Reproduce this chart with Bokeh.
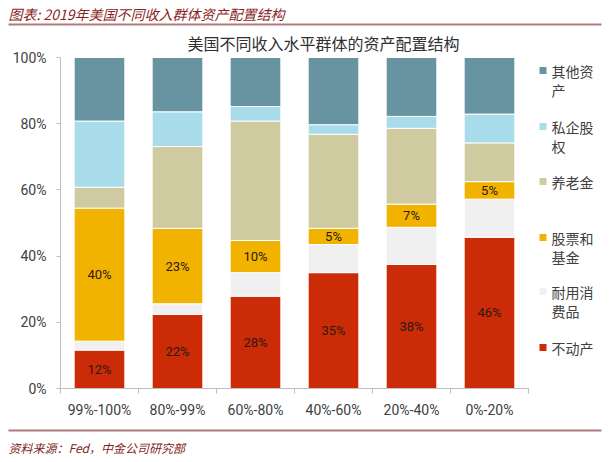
from bokeh.plotting import figure
from bokeh.models import (ColumnDataSource, Range1d, FixedTicker, NumeralTickFormatter, Label)
from bokeh.layouts import column
from bokeh.core.properties import value
from bokeh.embed import file_html
from bokeh.resources import INLINE

# ---- data (percent of total assets) ----
categories = ["99%-100%", "80%-99%", "60%-80%", "40%-60%", "20%-40%", "0%-20%"]
real_estate = [11.6, 22.4, 27.9, 35.0, 37.5, 45.7]      # 不动产
durables = [2.7, 3.2, 7.1, 8.5, 11.2, 11.5]             # 耐用消费品
stocks_funds = [40.2, 22.8, 9.7, 4.9, 7.0, 5.3]         # 股票和基金
pension = [6.3, 24.7, 36.1, 28.4, 22.9, 11.7]           # 养老金
private_equity = [20.0, 10.5, 4.4, 2.9, 3.6, 8.7]       # 私企股权
other_assets = [19.2, 16.4, 14.8, 20.3, 17.8, 17.1]     # 其他资产

series_names = ["不动产", "耐用消费品", "股票和基金", "养老金", "私企股权", "其他资产"]
series_values = [real_estate, durables, stocks_funds, pension, private_equity, other_assets]
series_colors = ["#CC2B08", "#F0F0F0", "#F2B300", "#CFCA9F", "#A9DCEA", "#6794A0"]

header_text = "图表: 2019年美国不同收入群体资产配置结构"
chart_title = "美国不同收入水平群体的资产配置结构"
footer_text = "资料来源：Fed，中金公司研究部"
legend_order = ["其他资产", "私企股权", "养老金", "股票和基金", "耐用消费品", "不动产"]
legend_lines = {
    "其他资产": ["其他资", "产"],
    "私企股权": ["私企股", "权"],
    "养老金": ["养老金"],
    "股票和基金": ["股票和", "基金"],
    "耐用消费品": ["耐用消", "费品"],
    "不动产": ["不动产"],
}

# ---- layout constants (pixels) ----
W = 611
HEAD_H, MAIN_H, FOOT_H = 28, 400, 34
MAIN_TOP_ABS = HEAD_H
FOOT_TOP_ABS = HEAD_H + MAIN_H
FRAME_L, FRAME_BOT_ABS = 60, 388
CAT_PX = 78.0
Y_PX = FRAME_BOT_ABS - 57.0          # pixels for 0..100%
LINE_COLOR = "#B07A7C"
CJK = "Noto Sans CJK SC"


def bare(fig):
    fig.outline_line_color = None
    fig.background_fill_color = "white"
    fig.border_fill_color = "white"
    fig.frame_align = False
    for g in fig.grid:
        g.visible = False
    return fig


def strip(h):
    """A plain band figure (header / footer): hidden axes, canvas-sized frame."""
    f = figure(width=W, height=h, output_backend="svg", toolbar_location=None,
               x_range=Range1d(0, W), y_range=Range1d(h, 0),
               min_border=0, min_border_left=0, min_border_right=0,
               min_border_top=0, min_border_bottom=0)
    for a in f.axis:
        a.visible = False
    return bare(f)


# ---- header ----
head = strip(HEAD_H)
head.add_layout(Label(x=8, y=13, text=header_text, text_font=CJK, text_font_size="14px",
                      text_font_style="italic", text_color="#8A1F1F",
                      text_align="left", text_baseline="middle"))
head.segment(x0=[8], y0=[24], x1=[601], y1=[24], line_width=2.2, line_color=LINE_COLOR)

# ---- main chart ----
frame_w = W - FRAME_L
frame_h = FRAME_BOT_ABS - MAIN_TOP_ABS
p = bare(figure(width=W, height=MAIN_H, output_backend="svg", toolbar_location=None,
                x_range=Range1d(0, frame_w / CAT_PX), y_range=Range1d(0, frame_h / Y_PX),
                min_border_left=FRAME_L, min_border_right=0, min_border_top=0,
                min_border_bottom=MAIN_H - frame_h))

xs = [i + 0.5 for i in range(len(categories))]
data = {"x": xs}
keys = []
for k, vals in enumerate(series_values):
    key = f"s{k}"
    keys.append(key)
    data[key] = [v / 100.0 for v in vals]
src = ColumnDataSource(data)
p.vbar_stack(keys, x="x", width=0.65, color=series_colors, line_color="white",
             line_width=1, source=src)

# value labels for 不动产 and 股票和基金
lab_x, lab_y, lab_t = [], [], []
for i in range(len(categories)):
    re_, du, st = real_estate[i], durables[i], stocks_funds[i]
    lab_x += [xs[i], xs[i]]
    lab_y += [re_ / 200.0, (re_ + du + st / 2.0) / 100.0]
    lab_t += [f"{round(re_):.0f}%", f"{round(st):.0f}%"]
p.text(x=lab_x, y=lab_y, text=lab_t, text_align="center", text_baseline="middle",
       text_font=value("Roboto"), text_font_size="13px", text_color="#2a1a12")

# axes
ax = p.xaxis[0]
ax.bounds = (0, len(categories))
ax.ticker = FixedTicker(ticks=xs, minor_ticks=list(range(len(categories) + 1)))
ax.major_label_overrides = {x: c for x, c in zip(xs, categories)}
ax.major_tick_line_color = None
ax.major_tick_in = 0
ax.major_tick_out = 0
ax.minor_tick_in = 0
ax.minor_tick_out = 5
ax.minor_tick_line_color = "#BFBFBF"
ax.axis_line_color = "#BFBFBF"
ax.major_label_text_font = "Roboto"
ax.major_label_text_font_size = "14px"
ax.major_label_text_color = "#404040"
ax.major_label_standoff = 8

ay = p.yaxis[0]
ay.bounds = (0, 1)
ay.ticker = FixedTicker(ticks=[0, 0.2, 0.4, 0.6, 0.8, 1.0])
ay.formatter = NumeralTickFormatter(format="0%")
ay.major_tick_in = 0
ay.major_tick_out = 4
ay.minor_tick_line_color = None
ay.major_tick_line_color = "#BFBFBF"
ay.axis_line_color = "#BFBFBF"
ay.major_label_text_font = "Roboto"
ay.major_label_text_font_size = "14px"
ay.major_label_text_color = "#404040"
ay.major_label_standoff = 10

# chart title (inside the frame's top band)
p.add_layout(Label(x=323, y=42 - MAIN_TOP_ABS, x_units="canvas", y_units="canvas",
                   text=chart_title, text_font=CJK, text_font_size="16px",
                   text_color="#303030", text_align="center", text_baseline="middle"))

# legend
legend_y_abs = [70, 126, 181, 237, 291, 347]
color_of = dict(zip(series_names, series_colors))
sq_x = [(542.5 - FRAME_L) / CAT_PX] * len(legend_order)
sq_y = [(FRAME_BOT_ABS - y) / Y_PX for y in legend_y_abs]
p.scatter(x=sq_x, y=sq_y, marker="square", size=7,
          fill_color=[color_of[n] for n in legend_order], line_color=None)
for name, y0 in zip(legend_order, legend_y_abs):
    for j, line in enumerate(legend_lines[name]):
        p.add_layout(Label(x=551, y=y0 - MAIN_TOP_ABS + 19 * j, x_units="canvas",
                           y_units="canvas", text=line, text_font=CJK,
                           text_font_size="14px", text_color="#404040",
                           text_align="left", text_baseline="middle"))

# ---- footer ----
foot = strip(FOOT_H)
foot.segment(x0=[8], y0=[2], x1=[601], y1=[2], line_width=2.2, line_color=LINE_COLOR)
foot.add_layout(Label(x=8, y=447 - FOOT_TOP_ABS, text=footer_text, text_font=CJK,
                      text_font_size="12px", text_font_style="italic", text_color="#7F1F1F",
                      text_align="left", text_baseline="middle"))

layout = column(head, p, foot, spacing=0)
open("out.html", "w").write(file_html(layout, INLINE))
